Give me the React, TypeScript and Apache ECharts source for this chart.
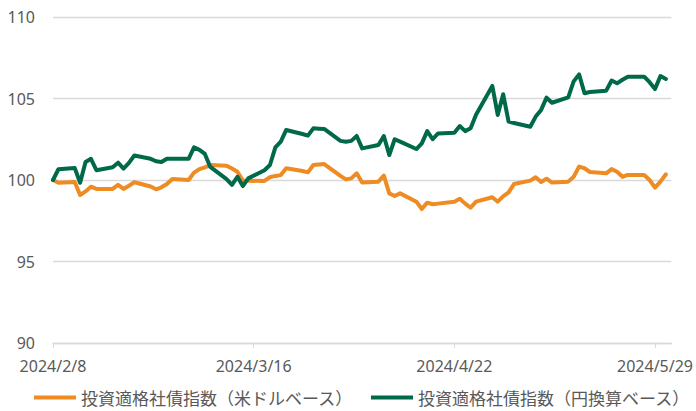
import React, { useEffect, useRef } from "react";
import * as echarts from "echarts";

const seriesNames = ["投資適格社債指数（米ドルベース）", "投資適格社債指数（円換算ベース）"];

const dates = [
  "2024-02-08", "2024-02-09",
  "2024-02-12", "2024-02-13", "2024-02-14", "2024-02-15", "2024-02-16",
  "2024-02-19", "2024-02-20", "2024-02-21", "2024-02-22", "2024-02-23",
  "2024-02-26", "2024-02-27", "2024-02-28", "2024-02-29", "2024-03-01",
  "2024-03-04", "2024-03-05", "2024-03-06", "2024-03-07", "2024-03-08",
  "2024-03-11", "2024-03-12", "2024-03-13", "2024-03-14", "2024-03-15",
  "2024-03-18", "2024-03-19", "2024-03-20", "2024-03-21", "2024-03-22",
  "2024-03-25", "2024-03-26", "2024-03-27", "2024-03-28", "2024-03-29",
  "2024-04-01", "2024-04-02", "2024-04-03", "2024-04-04", "2024-04-05",
  "2024-04-08", "2024-04-09", "2024-04-10", "2024-04-11", "2024-04-12",
  "2024-04-15", "2024-04-16", "2024-04-17", "2024-04-18", "2024-04-19",
  "2024-04-22", "2024-04-23", "2024-04-24", "2024-04-25", "2024-04-26",
  "2024-04-29", "2024-04-30", "2024-05-01", "2024-05-02", "2024-05-03",
  "2024-05-06", "2024-05-07", "2024-05-08", "2024-05-09", "2024-05-10",
  "2024-05-13", "2024-05-14", "2024-05-15", "2024-05-16", "2024-05-17",
  "2024-05-20", "2024-05-21", "2024-05-22", "2024-05-23", "2024-05-24",
  "2024-05-27", "2024-05-28", "2024-05-29", "2024-05-30", "2024-05-31",
];

const usdIndex = [
  100.0, 99.83,
  99.88, 99.08, 99.3, 99.59, 99.45,
  99.45, 99.7, 99.45, 99.65, 99.86,
  99.6, 99.43, 99.55, 99.75, 100.06,
  100.0, 100.45, 100.67, 100.78, 100.92,
  100.88, 100.7, 100.51, 99.96, 99.95,
  99.94, 100.17, 100.25, 100.3, 100.72,
  100.55, 100.47, 100.92, 100.95, 100.98,
  100.25, 100.04, 100.1, 100.41, 99.84,
  99.9, 100.27, 99.18, 99.02, 99.18,
  98.67, 98.22, 98.61, 98.51, 98.55,
  98.67, 98.85, 98.55, 98.3, 98.67,
  98.94, 98.67, 99.0, 99.24, 99.75,
  99.96, 100.17, 99.88, 100.08, 99.84,
  99.9, 100.2, 100.82, 100.72, 100.49,
  100.41, 100.67, 100.51, 100.2, 100.31,
  100.31, 100.0, 99.53, 99.9, 100.35,
];

const jpyIndex = [
  100.0, 100.66,
  100.74, 99.83, 101.1, 101.3, 100.6,
  100.78, 101.06, 100.7, 101.05, 101.5,
  101.3, 101.15, 101.1, 101.3, 101.3,
  101.3, 102.0, 101.85, 101.6, 100.8,
  100.05, 99.7, 100.2, 99.63, 100.1,
  100.6, 100.92, 102.0, 102.35, 103.07,
  102.82, 102.72, 103.17, 103.15, 103.13,
  102.4, 102.35, 102.4, 102.7, 101.94,
  102.15, 102.7, 101.53, 102.5, 102.35,
  101.9, 102.25, 103.0, 102.5, 102.86,
  102.9, 103.31, 103.0, 103.17, 104.0,
  105.77, 103.99, 105.26, 103.58, 103.5,
  103.27, 103.89, 104.3, 105.05, 104.74,
  105.07, 106.05, 106.48, 105.32, 105.4,
  105.48, 106.1, 105.93, 106.15, 106.34,
  106.34, 106.0, 105.58, 106.38, 106.2,
];

const xTickLabels = ["2024/2/8", "2024/3/16", "2024/4/22", "2024/5/29"];
const yTicks = [90, 95, 100, 105, 110];

const startDate = "2024-02-08";
const DAY = 86400000;
const dayOffset = (d: string) => Math.round((Date.parse(d) - Date.parse(startDate)) / DAY);
const X_INTERVAL = 37;
const X_MAX = 114;

const COLORS = ["#EE8B22", "#00694A"];
const LABEL_COLOR = "#595959";

export default function App() {
  const ref = useRef<HTMLDivElement>(null);
  useEffect(() => {
    if (!ref.current) return;
    const chart = echarts.init(ref.current, undefined, { renderer: "svg" });
    const build = (vals: number[]) => dates.map((d, i) => [dayOffset(d), vals[i]]);
    const tickValues = xTickLabels.map((_, i) => i * X_INTERVAL);
    chart.setOption({
      animation: false,
      backgroundColor: "#ffffff",
      grid: { left: 53, right: 20, top: 17, bottom: 68 },
      legend: {
        left: 34,
        top: 389,
        padding: 0,
        itemWidth: 42,
        itemHeight: 4,
        itemGap: 18,
        icon: "rect",
        textStyle: { fontFamily: "Noto Sans CJK JP", fontSize: 17, lineHeight: 17, color: LABEL_COLOR },
        data: seriesNames,
      },
      xAxis: {
        type: "value",
        min: 0,
        max: X_MAX,
        interval: X_INTERVAL,
        splitLine: { show: false },
        axisLine: { show: true, lineStyle: { color: "#D9D9D9", width: 1.3 } },
        axisTick: {
          show: true,
          length: 5,
          customValues: tickValues,
          lineStyle: { color: "#D9D9D9" },
        },
        axisLabel: {
          customValues: tickValues,
          hideOverlap: false,
          margin: 15,
          fontFamily: "Noto Sans",
          fontSize: 16,
          color: LABEL_COLOR,
          formatter: (v: number) => xTickLabels[Math.round(v / X_INTERVAL)] ?? "",
        },
      },
      yAxis: {
        type: "value",
        min: yTicks[0],
        max: yTicks[yTicks.length - 1],
        interval: 5,
        axisLine: { show: false },
        axisTick: { show: false },
        splitLine: { lineStyle: { color: "#D9D9D9", width: 1.3 } },
        axisLabel: { margin: 18, fontFamily: "Noto Sans", fontSize: 16, color: LABEL_COLOR },
      },
      series: [
        {
          name: seriesNames[0],
          type: "line",
          data: build(usdIndex),
          showSymbol: false,
          symbol: "none",
          color: COLORS[0],
          lineStyle: { width: 4, color: COLORS[0], cap: "round", join: "round" },
          z: 2,
        },
        {
          name: seriesNames[1],
          type: "line",
          data: build(jpyIndex),
          showSymbol: false,
          symbol: "none",
          color: COLORS[1],
          lineStyle: { width: 4, color: COLORS[1], cap: "round", join: "round" },
          z: 3,
        },
      ],
    });
    return () => chart.dispose();
  }, []);
  return <div ref={ref} style={{ position: "fixed", left: 0, top: 0, width: 696, height: 411 }} />;
}
